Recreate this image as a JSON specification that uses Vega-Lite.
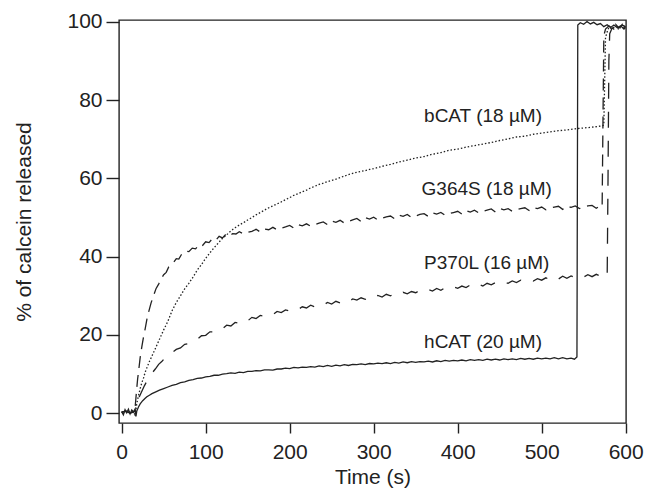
{
  "$schema": "https://vega.github.io/schema/vega-lite/v6.json",
  "width": 507,
  "height": 403,
  "autosize": {"type": "none"},
  "padding": {"left": 119, "top": 20, "right": 19, "bottom": 71},
  "background": "white",
  "config": {
    "view": {"stroke": "#222", "strokeWidth": 1.4},
    "font": "Liberation Sans",
    "axis": {"grid": false, "domain": false, "tickColor": "#222", "tickWidth": 1.4, "labelColor": "#222", "titleColor": "#222", "labelFont": "Liberation Sans", "titleFont": "Liberation Sans", "labelFontSize": 21, "titleFontSize": 21, "titleFontWeight": "normal"}
  },
  "datasets": {
    "hCAT": [
      {"t":0,"v":0.4},{"t":2,"v":-0.4},{"t":4,"v":0.9},{"t":6,"v":0.1},{"t":8,"v":1.0},{"t":10,"v":-0.2},{"t":12,"v":0.8},{"t":14,"v":0.3},{"t":16,"v":1.1},{"t":17,"v":-0.8},
      {"t":18,"v":0.6},{"t":20,"v":1.6},{"t":22,"v":2.4},{"t":25,"v":3.2},{"t":28,"v":3.8},{"t":30,"v":4.2},{"t":33,"v":4.6},{"t":36,"v":5.0},{"t":40,"v":5.4},{"t":45,"v":5.9},
      {"t":50,"v":6.3},{"t":55,"v":6.7},{"t":60,"v":7.1},{"t":65,"v":7.4},{"t":70,"v":7.8},{"t":75,"v":8.0},{"t":80,"v":8.4},{"t":85,"v":8.6},{"t":90,"v":8.9},{"t":95,"v":9.0},
      {"t":100,"v":9.3},{"t":105,"v":9.4},{"t":110,"v":9.7},{"t":115,"v":9.7},{"t":120,"v":10.0},{"t":125,"v":10.1},{"t":130,"v":10.3},{"t":135,"v":10.2},{"t":140,"v":10.5},{"t":145,"v":10.4},
      {"t":150,"v":10.7},{"t":155,"v":10.7},{"t":160,"v":10.9},{"t":165,"v":10.8},{"t":170,"v":11.1},{"t":175,"v":11.1},{"t":180,"v":11.0},{"t":185,"v":11.3},{"t":190,"v":11.3},{"t":195,"v":11.5},
      {"t":200,"v":11.4},{"t":205,"v":11.7},{"t":210,"v":11.6},{"t":215,"v":11.8},{"t":220,"v":11.7},{"t":225,"v":11.9},{"t":230,"v":11.8},{"t":235,"v":12.1},{"t":240,"v":11.9},{"t":245,"v":12.2},
      {"t":250,"v":12.0},{"t":255,"v":12.3},{"t":260,"v":12.1},{"t":265,"v":12.4},{"t":270,"v":12.2},{"t":275,"v":12.5},{"t":280,"v":12.4},{"t":285,"v":12.6},{"t":290,"v":12.4},{"t":295,"v":12.7},
      {"t":300,"v":12.6},{"t":305,"v":12.8},{"t":310,"v":12.7},{"t":315,"v":12.9},{"t":320,"v":12.7},{"t":325,"v":13.0},{"t":330,"v":12.8},{"t":335,"v":13.1},{"t":340,"v":12.9},{"t":345,"v":13.2},
      {"t":350,"v":13.0},{"t":355,"v":13.2},{"t":360,"v":13.1},{"t":365,"v":13.3},{"t":370,"v":13.1},{"t":375,"v":13.4},{"t":380,"v":13.2},{"t":385,"v":13.5},{"t":390,"v":13.3},{"t":395,"v":13.5},
      {"t":400,"v":13.4},{"t":405,"v":13.6},{"t":410,"v":13.4},{"t":415,"v":13.7},{"t":420,"v":13.5},{"t":425,"v":13.7},{"t":430,"v":13.5},{"t":435,"v":13.8},{"t":440,"v":13.6},{"t":445,"v":13.8},
      {"t":450,"v":13.6},{"t":455,"v":13.9},{"t":460,"v":13.7},{"t":465,"v":13.9},{"t":470,"v":13.7},{"t":475,"v":14.0},{"t":480,"v":13.8},{"t":485,"v":14.0},{"t":490,"v":13.8},{"t":495,"v":14.1},
      {"t":500,"v":13.9},{"t":505,"v":14.1},{"t":510,"v":13.9},{"t":515,"v":14.2},{"t":520,"v":13.9},{"t":525,"v":14.2},{"t":530,"v":13.9},{"t":535,"v":14.1},{"t":539,"v":13.8},{"t":542,"v":14.4},
      {"t":543,"v":99.2},{"t":546,"v":99.8},{"t":550,"v":99.4},{"t":554,"v":100.1},{"t":558,"v":99.5},{"t":562,"v":99.9},{"t":566,"v":99.3},{"t":570,"v":99.6},{"t":574,"v":98.8},{"t":578,"v":99.3},
      {"t":582,"v":98.6},{"t":586,"v":99.2},{"t":590,"v":98.5},{"t":594,"v":99.0},{"t":598,"v":98.2},{"t":600,"v":98.6}
    ],
    "bCAT": [
      {"t":0,"v":0.2},{"t":4,"v":0.5},{"t":8,"v":0.3},{"t":12,"v":0.6},{"t":15,"v":0.0},{"t":16,"v":-0.8},{"t":18,"v":2.5},{"t":20,"v":4.5},{"t":22,"v":6.3},{"t":24,"v":7.8},
      {"t":26,"v":9.0},{"t":28,"v":10.5},{"t":30,"v":11.6},{"t":33,"v":13.2},{"t":36,"v":14.6},{"t":40,"v":16.5},{"t":45,"v":18.9},{"t":50,"v":21.3},{"t":55,"v":23.5},{"t":60,"v":26.2},
      {"t":65,"v":28.3},{"t":70,"v":30.0},{"t":75,"v":31.8},{"t":80,"v":33.2},{"t":85,"v":34.8},{"t":90,"v":36.6},{"t":95,"v":38.0},{"t":100,"v":39.6},{"t":105,"v":41.0},{"t":110,"v":42.3},
      {"t":115,"v":43.5},{"t":120,"v":44.7},{"t":125,"v":45.6},{"t":130,"v":46.6},{"t":135,"v":47.4},{"t":140,"v":48.1},{"t":145,"v":48.7},{"t":150,"v":49.4},{"t":155,"v":50.0},{"t":160,"v":50.7},
      {"t":165,"v":51.3},{"t":170,"v":51.9},{"t":175,"v":52.5},{"t":180,"v":53.0},{"t":185,"v":53.5},{"t":190,"v":54.0},{"t":195,"v":54.6},{"t":200,"v":55.1},{"t":205,"v":55.7},{"t":210,"v":56.1},
      {"t":215,"v":56.6},{"t":220,"v":57.0},{"t":225,"v":57.6},{"t":230,"v":58.0},{"t":235,"v":58.5},{"t":240,"v":58.8},{"t":245,"v":59.2},{"t":250,"v":59.5},{"t":255,"v":59.8},{"t":260,"v":60.2},
      {"t":265,"v":60.6},{"t":270,"v":61.0},{"t":275,"v":61.3},{"t":280,"v":61.6},{"t":285,"v":61.8},{"t":290,"v":62.0},{"t":295,"v":62.3},{"t":300,"v":62.5},{"t":310,"v":63.1},{"t":320,"v":63.6},
      {"t":330,"v":64.2},{"t":340,"v":64.7},{"t":350,"v":65.2},{"t":360,"v":65.6},{"t":370,"v":66.2},{"t":380,"v":66.6},{"t":390,"v":67.2},{"t":400,"v":67.5},{"t":410,"v":68.0},{"t":420,"v":68.4},
      {"t":430,"v":68.8},{"t":440,"v":69.2},{"t":450,"v":69.7},{"t":460,"v":70.1},{"t":470,"v":70.6},{"t":480,"v":70.8},{"t":490,"v":71.3},{"t":500,"v":71.6},{"t":510,"v":71.9},{"t":520,"v":72.2},
      {"t":530,"v":72.4},{"t":540,"v":72.7},{"t":550,"v":72.9},{"t":560,"v":73.1},{"t":570,"v":73.4},{"t":574,"v":73.6},{"t":576,"v":96.0},{"t":578,"v":97.5},{"t":580,"v":98.6},{"t":584,"v":98.2},
      {"t":588,"v":99.1},{"t":592,"v":98.0},{"t":596,"v":99.4},{"t":600,"v":98.5}
    ],
    "G364S": [
      {"t":0,"v":0.3},{"t":5,"v":0.6},{"t":10,"v":0.1},{"t":15,"v":0.5},{"t":16,"v":1.5},{"t":17,"v":4.0},{"t":18,"v":6.5},{"t":19,"v":8.8},{"t":20,"v":10.5},{"t":22,"v":14.2},
      {"t":24,"v":17.0},{"t":26,"v":19.5},{"t":28,"v":21.6},{"t":30,"v":24.0},{"t":32,"v":25.8},{"t":35,"v":28.2},{"t":38,"v":30.1},{"t":41,"v":31.9},{"t":44,"v":33.0},{"t":47,"v":34.3},
      {"t":50,"v":35.4},{"t":53,"v":36.0},{"t":56,"v":37.4},{"t":59,"v":38.0},{"t":62,"v":38.6},{"t":65,"v":39.5},{"t":68,"v":39.4},{"t":71,"v":40.5},{"t":74,"v":40.6},{"t":77,"v":41.4},
      {"t":80,"v":41.3},{"t":84,"v":42.2},{"t":88,"v":42.0},{"t":92,"v":43.1},{"t":96,"v":42.8},{"t":100,"v":43.8},{"t":104,"v":43.6},{"t":108,"v":44.6},{"t":112,"v":44.2},{"t":116,"v":45.2},
      {"t":120,"v":44.8},{"t":124,"v":45.7},{"t":128,"v":45.2},{"t":132,"v":45.9},{"t":136,"v":45.8},{"t":140,"v":46.4},{"t":145,"v":45.8},{"t":150,"v":46.2},{"t":155,"v":46.5},{"t":160,"v":47.0},
      {"t":165,"v":46.3},{"t":170,"v":47.1},{"t":175,"v":46.9},{"t":180,"v":47.5},{"t":185,"v":46.9},{"t":190,"v":47.3},{"t":195,"v":47.6},{"t":200,"v":48.0},{"t":205,"v":47.3},{"t":210,"v":48.2},
      {"t":215,"v":47.9},{"t":220,"v":48.4},{"t":225,"v":47.8},{"t":230,"v":48.2},{"t":235,"v":48.6},{"t":240,"v":48.9},{"t":245,"v":48.2},{"t":250,"v":49.1},{"t":255,"v":48.8},{"t":260,"v":49.3},
      {"t":265,"v":48.6},{"t":270,"v":49.0},{"t":275,"v":49.4},{"t":280,"v":49.8},{"t":285,"v":49.0},{"t":290,"v":50.0},{"t":295,"v":49.6},{"t":300,"v":50.1},{"t":305,"v":49.4},{"t":310,"v":49.8},
      {"t":315,"v":50.2},{"t":320,"v":50.4},{"t":325,"v":49.7},{"t":330,"v":50.6},{"t":335,"v":50.3},{"t":340,"v":50.8},{"t":345,"v":50.0},{"t":350,"v":50.4},{"t":355,"v":50.8},{"t":360,"v":51.0},
      {"t":365,"v":50.3},{"t":370,"v":51.2},{"t":375,"v":50.9},{"t":380,"v":51.3},{"t":385,"v":50.6},{"t":390,"v":51.0},{"t":395,"v":51.3},{"t":400,"v":51.6},{"t":405,"v":50.9},{"t":410,"v":51.8},
      {"t":415,"v":51.4},{"t":420,"v":51.9},{"t":425,"v":51.2},{"t":430,"v":51.6},{"t":435,"v":51.9},{"t":440,"v":52.2},{"t":445,"v":51.4},{"t":450,"v":52.3},{"t":455,"v":52.0},{"t":460,"v":52.3},
      {"t":465,"v":51.6},{"t":470,"v":52.0},{"t":475,"v":52.3},{"t":480,"v":52.5},{"t":485,"v":51.8},{"t":490,"v":52.6},{"t":495,"v":52.3},{"t":500,"v":52.7},{"t":505,"v":52.0},{"t":510,"v":52.4},
      {"t":515,"v":52.7},{"t":520,"v":52.9},{"t":525,"v":52.1},{"t":530,"v":52.9},{"t":535,"v":52.6},{"t":540,"v":53.0},{"t":545,"v":52.3},{"t":550,"v":52.7},{"t":555,"v":53.0},{"t":560,"v":53.1},
      {"t":565,"v":52.4},{"t":570,"v":53.0},{"t":572,"v":52.8},{"t":573,"v":75.0},{"t":574,"v":96.5},{"t":576,"v":98.2},{"t":580,"v":99.0},{"t":584,"v":98.3},{"t":588,"v":99.4},{"t":592,"v":98.5},
      {"t":596,"v":99.2},{"t":600,"v":98.8}
    ],
    "P370L": [
      {"t":0,"v":0.2},{"t":5,"v":0.5},{"t":10,"v":0.0},{"t":15,"v":0.4},{"t":17,"v":1.0},{"t":19,"v":3.0},{"t":21,"v":4.2},{"t":24,"v":5.6},{"t":27,"v":7.0},{"t":30,"v":8.2},
      {"t":33,"v":9.2},{"t":36,"v":10.2},{"t":40,"v":11.3},{"t":44,"v":12.5},{"t":48,"v":13.3},{"t":52,"v":14.2},{"t":56,"v":14.8},{"t":60,"v":15.5},{"t":65,"v":16.3},{"t":70,"v":16.7},
      {"t":75,"v":17.6},{"t":80,"v":17.8},{"t":85,"v":18.7},{"t":90,"v":18.9},{"t":95,"v":19.8},{"t":100,"v":19.9},{"t":105,"v":20.8},{"t":110,"v":20.8},{"t":115,"v":21.7},{"t":120,"v":21.6},
      {"t":125,"v":22.5},{"t":130,"v":22.3},{"t":135,"v":23.2},{"t":140,"v":23.0},{"t":145,"v":23.9},{"t":150,"v":23.6},{"t":155,"v":24.5},{"t":160,"v":24.2},{"t":165,"v":25.0},{"t":170,"v":24.8},
      {"t":175,"v":25.5},{"t":180,"v":25.2},{"t":185,"v":26.0},{"t":190,"v":25.7},{"t":195,"v":26.4},{"t":200,"v":26.1},{"t":205,"v":26.8},{"t":210,"v":26.5},{"t":215,"v":27.2},{"t":220,"v":26.9},
      {"t":225,"v":27.6},{"t":230,"v":27.2},{"t":235,"v":27.9},{"t":240,"v":27.6},{"t":245,"v":28.3},{"t":250,"v":27.9},{"t":255,"v":28.6},{"t":260,"v":28.2},{"t":265,"v":28.9},{"t":270,"v":28.5},
      {"t":275,"v":29.2},{"t":280,"v":28.9},{"t":285,"v":29.5},{"t":290,"v":29.1},{"t":295,"v":29.8},{"t":300,"v":29.4},{"t":305,"v":30.1},{"t":310,"v":29.7},{"t":315,"v":30.4},{"t":320,"v":30.0},
      {"t":325,"v":30.6},{"t":330,"v":30.2},{"t":335,"v":30.9},{"t":340,"v":30.5},{"t":345,"v":31.1},{"t":350,"v":30.8},{"t":355,"v":31.4},{"t":360,"v":31.0},{"t":365,"v":31.6},{"t":370,"v":31.2},
      {"t":375,"v":31.9},{"t":380,"v":31.4},{"t":385,"v":32.1},{"t":390,"v":31.7},{"t":395,"v":32.3},{"t":400,"v":31.9},{"t":405,"v":32.5},{"t":410,"v":32.1},{"t":415,"v":32.8},{"t":420,"v":32.3},
      {"t":425,"v":33.0},{"t":430,"v":32.5},{"t":435,"v":33.2},{"t":440,"v":32.8},{"t":445,"v":33.4},{"t":450,"v":33.0},{"t":455,"v":33.6},{"t":460,"v":33.2},{"t":465,"v":33.8},{"t":470,"v":33.4},
      {"t":475,"v":34.0},{"t":480,"v":33.6},{"t":485,"v":34.2},{"t":490,"v":33.8},{"t":495,"v":34.4},{"t":500,"v":34.0},{"t":505,"v":34.6},{"t":510,"v":34.1},{"t":515,"v":34.8},{"t":520,"v":34.3},
      {"t":525,"v":35.0},{"t":530,"v":34.5},{"t":535,"v":35.1},{"t":540,"v":34.7},{"t":545,"v":35.3},{"t":550,"v":34.8},{"t":555,"v":35.4},{"t":560,"v":34.9},{"t":565,"v":35.5},{"t":570,"v":35.0},
      {"t":575,"v":35.4},{"t":578,"v":35.0},{"t":579,"v":60.0},{"t":580,"v":90.0},{"t":581,"v":97.0},{"t":584,"v":98.5},{"t":588,"v":97.8},{"t":592,"v":99.0},{"t":596,"v":98.2},{"t":600,"v":98.9}
    ],
    "labels": [
      {"label":"bCAT (18 µM)","t":360,"v":75.9},
      {"label":"G364S (18 µM)","t":357,"v":57.3},
      {"label":"P370L (16 µM)","t":360,"v":38.4},
      {"label":"hCAT (20 µM)","t":360,"v":18.3}
    ]
  },
  "encoding": {
    "x": {"field": "t", "type": "quantitative", "scale": {"domain": [-3.2, 600.4], "nice": false, "zero": false},
      "axis": {"values": [0,100,200,300,400,500,600], "title": "Time (s)", "tickSize": 10, "labelPadding": 8, "titlePadding": 4, "labelFlush": false}},
    "y": {"field": "v", "type": "quantitative", "scale": {"domain": [-2.5, 100.5], "nice": false, "zero": false},
      "axis": {"values": [0,20,40,60,80,100], "title": "% of calcein released", "tickSize": 13, "labelPadding": 4, "titlePadding": 32}}
  },
  "layer": [
    {"data": {"name": "P370L"}, "mark": {"type": "line", "color": "#222", "strokeWidth": 1.3, "strokeDash": [16, 13], "clip": true}, "encoding": {"order": {"field": "t", "type": "quantitative"}}},
    {"data": {"name": "G364S"}, "mark": {"type": "line", "color": "#222", "strokeWidth": 1.3, "strokeDash": [12, 7], "clip": true}, "encoding": {"order": {"field": "t", "type": "quantitative"}}},
    {"data": {"name": "bCAT"}, "mark": {"type": "line", "color": "#222", "strokeWidth": 1.3, "strokeDash": [1.5, 2], "clip": true}, "encoding": {"order": {"field": "t", "type": "quantitative"}}},
    {"data": {"name": "hCAT"}, "mark": {"type": "line", "color": "#222", "strokeWidth": 1.3, "clip": true}, "encoding": {"order": {"field": "t", "type": "quantitative"}}},
    {"data": {"name": "labels"}, "mark": {"type": "text", "align": "left", "baseline": "middle", "fontSize": 19, "font": "Liberation Sans", "color": "#222"}, "encoding": {"text": {"field": "label", "type": "nominal"}}}
  ]
}
